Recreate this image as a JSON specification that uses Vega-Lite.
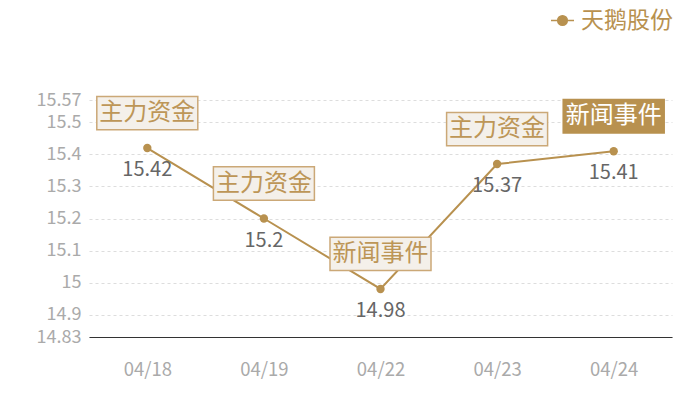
{
  "$schema": "https://vega.github.io/schema/vega-lite/v6.json",
  "autosize": {"type": "none"},
  "padding": {"left": 89, "top": 100, "right": 28, "bottom": 63},
  "width": 583,
  "height": 237,
  "config": {
    "font": "Noto Sans CJK SC",
    "view": {"stroke": null}
  },
  "data": {
    "values": [
      {"date": "04/18", "price": 15.42, "event": "主力资金"},
      {"date": "04/19", "price": 15.2, "event": "主力资金"},
      {"date": "04/22", "price": 14.98, "event": "新闻事件"},
      {"date": "04/23", "price": 15.37, "event": "主力资金"},
      {"date": "04/24", "price": 15.41, "event": "新闻事件"}
    ]
  },
  "encoding": {
    "x": {
      "field": "date",
      "type": "ordinal",
      "title": null,
      "scale": {"paddingInner": 0, "paddingOuter": 0},
      "axis": {
        "labelAngle": 0,
        "ticks": false,
        "grid": false,
        "domainColor": "#333333",
        "labelColor": "#aaaaaa",
        "labelFontSize": 18.5,
        "labelPadding": 23
      }
    },
    "y": {
      "field": "price",
      "type": "quantitative",
      "title": null,
      "scale": {"domain": [14.83, 15.57], "nice": false, "zero": false},
      "axis": {
        "values": [14.83, 14.9, 15, 15.1, 15.2, 15.3, 15.4, 15.5, 15.57],
        "labelExpr": "toString(datum.value)",
        "labelOverlap": false,
        "ticks": false,
        "domain": false,
        "labelColor": "#aaaaaa",
        "labelFontSize": 18,
        "labelPadding": 8,
        "gridColor": "#dddddd",
        "gridDash": [3, 3]
      }
    }
  },
  "layer": [
    {
      "mark": {"type": "line", "strokeWidth": 2},
      "encoding": {
        "color": {
          "datum": "天鹅股份",
          "scale": {"range": ["#b8914f"]},
          "legend": {
            "title": null,
            "orient": "none",
            "legendX": 461,
            "legendY": -92,
            "symbolType": "M-1,0 L-0.42,0 M0.42,0 L1,0 M0.42,0 A0.42,0.42 0 1 1 -0.42,0 A0.42,0.42 0 1 1 0.42,0 Z",
            "symbolSize": 529,
            "symbolStrokeWidth": 1.5,
            "symbolFillColor": "#b8914f",
            "symbolStrokeColor": "#b8914f",
            "labelColor": "#b8914f",
            "labelFontSize": 23,
            "labelOffset": 6
          }
        }
      }
    },
    {
      "mark": {"type": "point", "filled": true, "size": 70, "opacity": 1, "color": "#b8914f"}
    },
    {
      "mark": {
        "type": "point",
        "shape": "M-1,-0.33 L1,-0.33 L1,0.33 L-1,0.33 Z",
        "size": 10201,
        "yOffset": -35,
        "strokeWidth": 1.5,
        "opacity": 1
      },
      "encoding": {
        "fill": {
          "condition": {"test": "datum.date === '04/24'", "value": "#b8914f"},
          "value": "#f4f0ea"
        },
        "stroke": {
          "condition": {"test": "datum.date === '04/24'", "value": "#b8914f"},
          "value": "#cba877"
        }
      }
    },
    {
      "mark": {"type": "text", "fontSize": 24, "yOffset": -35, "baseline": "middle"},
      "encoding": {
        "text": {"field": "event", "type": "nominal"},
        "color": {
          "condition": {"test": "datum.date === '04/24'", "value": "#ffffff"},
          "value": "#bd9657"
        }
      }
    },
    {
      "mark": {"type": "text", "fontSize": 20, "yOffset": 22, "baseline": "middle", "color": "#666666"},
      "encoding": {
        "text": {"field": "price", "type": "nominal"}
      }
    }
  ]
}
